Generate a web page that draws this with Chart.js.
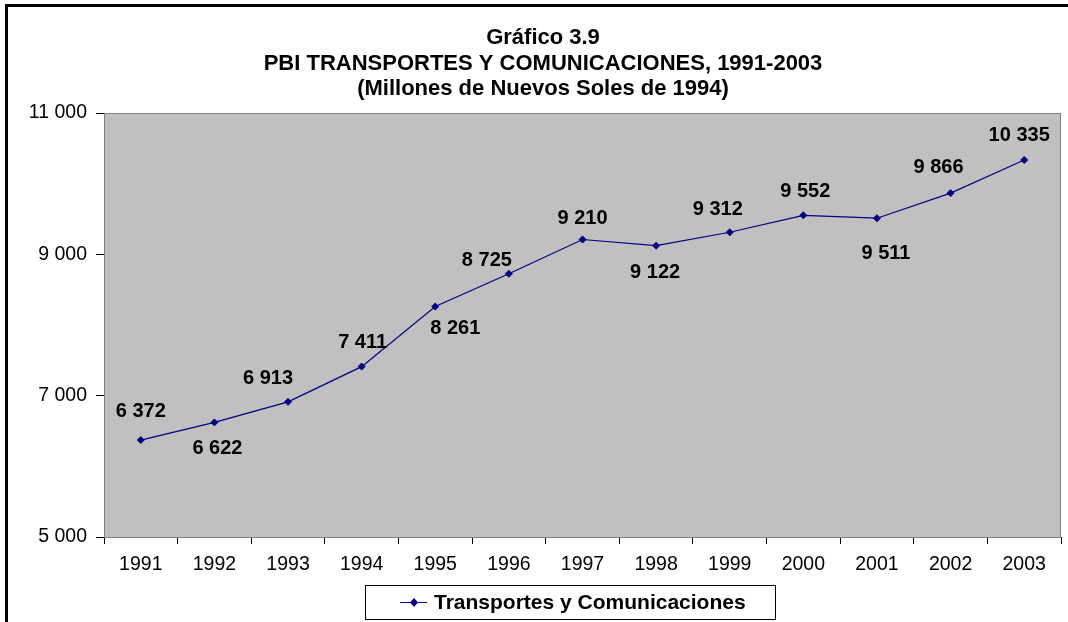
<!DOCTYPE html>
<html>
<head>
<meta charset="utf-8">
<script src="https://cdn.jsdelivr.net/npm/chart.js@4.4.0/dist/chart.umd.min.js"></script>
<style>
  body { margin: 0; background: #fff; }
  #wrap { width: 1068px; height: 622px; }
</style>
</head>
<body>
<div id="wrap"><canvas id="c" width="1068" height="622"></canvas></div>
<script>
// data
var years = ['1991','1992','1993','1994','1995','1996','1997','1998','1999','2000','2001','2002','2003'];
var pbi = [6372, 6622, 6913, 7411, 8261, 8725, 9210, 9122, 9312, 9552, 9511, 9866, 10335];
var yTicks = [5000, 7000, 9000, 11000];
var titleLines = ['Gráfico 3.9', 'PBI TRANSPORTES Y COMUNICACIONES, 1991-2003', '(Millones de Nuevos Soles de 1994)'];
var seriesName = 'Transportes y Comunicaciones';

// where each value label sits relative to its point (px)
var labelDx = [0, 3, -20, 1, 20, -22, 0, -1, -12, 2, 9, -12, -5];
var labelDy = [-30, 25, -24, -25, 21, -14, -22, 26, -24, -25, 34, -27, -26];

var NAVY = '#000080';
var FONT = '"Liberation Sans", Arial, sans-serif';

function fmt(n){
  return String(n).replace(/\B(?=(\d{3})+(?!\d))/g, ' ');
}

// grey plot background + frame, titles, labels, legend
var decor = {
  id: 'decor',
  beforeDatasetsDraw: function(chart){
    var ctx = chart.ctx, a = chart.chartArea;
    ctx.save();
    ctx.fillStyle = '#C0C0C0';
    ctx.fillRect(a.left, a.top, a.right - a.left, a.bottom - a.top);
    ctx.strokeStyle = '#808080';
    ctx.lineWidth = 1;
    ctx.strokeRect(a.left + 0.5, a.top + 0.5, a.right - a.left - 1, a.bottom - a.top);
    ctx.restore();
  },
  afterDraw: function(chart){
    var ctx = chart.ctx;
    ctx.save();
    // outer frame
    ctx.fillStyle = '#000';
    ctx.fillRect(5, 4, 1063, 3);
    ctx.fillRect(5, 4, 3, 618);

    // titles
    ctx.font = 'bold 22px ' + FONT;
    ctx.textAlign = 'center';
    ctx.textBaseline = 'middle';
    for (var i = 0; i < titleLines.length; i++) {
      ctx.fillText(titleLines[i], 543, 38 + i * 25.5);
    }

    // value labels
    var meta = chart.getDatasetMeta(0);
    ctx.font = 'bold 20px ' + FONT;
    for (var j = 0; j < meta.data.length; j++) {
      var p = meta.data[j];
      ctx.fillText(fmt(pbi[j]), p.x + labelDx[j], p.y + labelDy[j] + 1);
    }

    // legend
    var lx = 365, ly = 585, lw = 410, lh = 34;
    ctx.fillStyle = '#fff';
    ctx.fillRect(lx, ly, lw, lh);
    ctx.strokeStyle = '#000';
    ctx.lineWidth = 1;
    ctx.strokeRect(lx + 0.5, ly + 0.5, lw, lh);
    var my = 602;
    ctx.strokeStyle = NAVY;
    ctx.beginPath();
    ctx.moveTo(400, my + 0.5);
    ctx.lineTo(427, my + 0.5);
    ctx.stroke();
    ctx.fillStyle = NAVY;
    ctx.beginPath();
    ctx.moveTo(414, my - 4);
    ctx.lineTo(418, my + 0.5);
    ctx.lineTo(414, my + 5);
    ctx.lineTo(410, my + 0.5);
    ctx.closePath();
    ctx.fill();
    ctx.fillStyle = '#000';
    ctx.textAlign = 'left';
    ctx.font = 'bold 21px ' + FONT;
    ctx.fillText(seriesName, 434, my + 1);
    ctx.restore();
  }
};

var ctx = document.getElementById('c').getContext('2d');
var myChart = new Chart(ctx, {
  type: 'line',
  data: {
    labels: years,
    datasets: [{
      label: seriesName,
      data: pbi,
      borderColor: NAVY,
      backgroundColor: NAVY,
      borderWidth: 1.2,
      pointStyle: 'rectRot',
      pointRadius: 3.5,
      pointBorderWidth: 1,
      tension: 0
    }]
  },
  plugins: [decor],
  options: {
    responsive: false,
    animation: false,
    layout: { padding: { left: 0, right: 7, top: 113, bottom: 45 } },
    plugins: {
      legend: { display: false },
      title: { display: false },
      tooltip: { enabled: false }
    },
    scales: {
      x: {
        offset: true,
        grid: { offset: true, drawOnChartArea: false, color: '#000', tickLength: 7, tickWidth: 1 },
        border: { color: '#000', width: 1 },
        ticks: { color: '#000', font: { family: FONT, size: 19.5 }, padding: 9, maxRotation: 0 },
        afterFit: function(s){ s.height = 40; }
      },
      y: {
        min: 5000,
        max: 11000,
        afterBuildTicks: function(s){ s.ticks = yTicks.map(function(v){ return { value: v }; }); },
        grid: { drawOnChartArea: false, color: '#000', tickLength: 8 },
        border: { color: '#555', width: 1 },
        ticks: {
          color: '#000',
          font: { family: FONT, size: 19.5 },
          padding: 9,
          callback: function(v){ return fmt(v); }
        },
        afterFit: function(s){ s.width = 104; }
      }
    }
  }
});
</script>
</body>
</html>
